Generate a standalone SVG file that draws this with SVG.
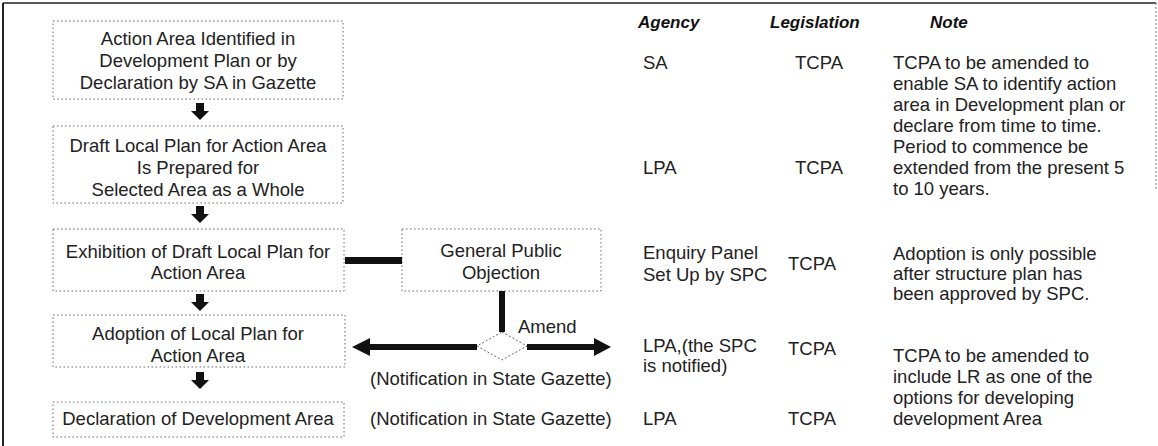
<svg xmlns="http://www.w3.org/2000/svg" width="1158" height="446" viewBox="0 0 1158 446">
  <style>
    .box { fill: none; stroke: #666; stroke-width: 1; stroke-dasharray: 1.5 2.5; }
    .t { font-family: "Liberation Sans", Arial, sans-serif; font-size: 18.5px; fill: #222; }
    .c { text-anchor: middle; }
    .h { font-family: "Liberation Sans", Arial, sans-serif; font-size: 17px; font-weight: bold; font-style: italic; fill: #111; }
    .thick { fill: #111; stroke: none; }
  </style>
  <defs>
    <!-- block arrow pointing down, origin at top centre -->
    <path id="down" d="M-4,0 H4 V8 H9 L0,17 L-9,8 H-4 Z" fill="#111"/>
  </defs>

  <rect width="1158" height="446" fill="#fff"/>

  <!-- outer frame -->
  <g id="frame">
    <line x1="3" y1="3" x2="1156" y2="3" stroke="#222" stroke-width="1.5"/>
    <line x1="3" y1="3" x2="3" y2="446" stroke="#222" stroke-width="2"/>
    <line x1="1156" y1="3" x2="1156" y2="190" stroke="#777" stroke-width="1" stroke-dasharray="2 2"/>
  </g>

  <!-- column headings -->
  <g id="headings">
    <text class="h" x="638" y="28">Agency</text>
    <text class="h" x="770" y="28">Legislation</text>
    <text class="h" x="930" y="28">Note</text>
  </g>

  <g id="n1">
    <rect class="box" x="53" y="21" width="290" height="78"/>
    <text class="t c" x="198" y="45">Action Area Identified in</text>
    <text class="t c" x="198" y="67">Development Plan or by</text>
    <text class="t c" x="198" y="89">Declaration by SA in Gazette</text>
  </g>

  <g id="n2">
    <rect class="box" x="53" y="126" width="290" height="77"/>
    <text class="t c" x="198" y="152">Draft Local Plan for Action Area</text>
    <text class="t c" x="198" y="174">Is Prepared for</text>
    <text class="t c" x="198" y="196">Selected Area as a Whole</text>
  </g>

  <g id="n3">
    <rect class="box" x="53" y="229" width="291" height="62"/>
    <text class="t c" x="198" y="258">Exhibition of Draft Local Plan for</text>
    <text class="t c" x="198" y="279">Action Area</text>
  </g>

  <g id="n4">
    <rect class="box" x="402" y="229" width="199" height="62"/>
    <text class="t c" x="501" y="257">General Public</text>
    <text class="t c" x="501" y="279">Objection</text>
  </g>

  <g id="n5">
    <rect class="box" x="53" y="315" width="292" height="52"/>
    <text class="t c" x="198" y="340">Adoption of Local Plan for</text>
    <text class="t c" x="198" y="362">Action Area</text>
  </g>

  <g id="n6">
    <rect class="box" x="53" y="402" width="291" height="35"/>
    <text class="t c" x="198" y="425">Declaration of Development Area</text>
  </g>

  <g id="decision">
    <path d="M502,332 L527,346 L502,360 L477,346 Z" fill="none" stroke="#666" stroke-width="1" stroke-dasharray="2 2"/>
  </g>

  <g id="connectors">
    <use href="#down" x="200" y="103"/>
    <use href="#down" x="200" y="206"/>
    <use href="#down" x="200" y="294"/>
    <use href="#down" x="200" y="372"/>
    <!-- exhibition to objection -->
    <rect class="thick" x="345" y="257" width="57" height="7"/>
    <!-- objection down to decision -->
    <rect class="thick" x="499" y="291" width="6" height="41"/>
    <!-- decision back to adoption -->
    <path class="thick" d="M477,344 H370 V338 L352,347 L370,356 V350 H477 Z"/>
    <!-- amend -->
    <path class="thick" d="M527,344 H594 V338 L611,347 L594,356 V350 H527 Z"/>
  </g>

  <g id="labels">
    <text class="t" x="518" y="333">Amend</text>
    <text class="t" x="370" y="385">(Notification in State Gazette)</text>
    <text class="t" x="370" y="425">(Notification in State Gazette)</text>
  </g>

  <g id="agency">
    <text class="t" x="643" y="69">SA</text>
    <text class="t" x="643" y="174">LPA</text>
    <text class="t" x="643" y="259">Enquiry Panel</text>
    <text class="t" x="643" y="281">Set Up by SPC</text>
    <text class="t" x="643" y="352">LPA,(the SPC</text>
    <text class="t" x="643" y="372">is notified)</text>
    <text class="t" x="643" y="425">LPA</text>
  </g>

  <g id="legislation">
    <text class="t" x="795" y="69">TCPA</text>
    <text class="t" x="795" y="174">TCPA</text>
    <text class="t" x="788" y="270">TCPA</text>
    <text class="t" x="788" y="355">TCPA</text>
    <text class="t" x="788" y="425">TCPA</text>
  </g>

  <g id="notes">
    <text class="t" x="893" y="69">TCPA to be amended to</text>
    <text class="t" x="893" y="90">enable SA to identify action</text>
    <text class="t" x="893" y="111">area in Development plan or</text>
    <text class="t" x="893" y="132">declare from time to time.</text>
    <text class="t" x="893" y="153">Period to commence be</text>
    <text class="t" x="893" y="174">extended from the present 5</text>
    <text class="t" x="893" y="195">to 10 years.</text>
    <text class="t" x="893" y="260">Adoption is only possible</text>
    <text class="t" x="893" y="280">after structure plan has</text>
    <text class="t" x="893" y="300">been approved by SPC.</text>
    <text class="t" x="893" y="362">TCPA to be amended to</text>
    <text class="t" x="893" y="383">include LR as one of the</text>
    <text class="t" x="893" y="404">options for developing</text>
    <text class="t" x="893" y="425">development Area</text>
  </g>
</svg>
